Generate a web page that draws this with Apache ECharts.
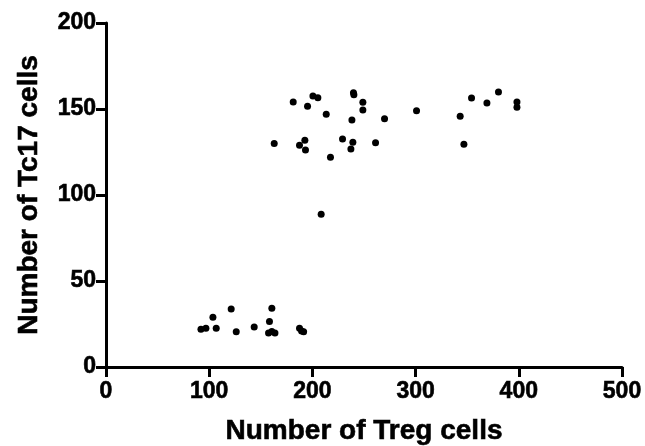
<!DOCTYPE html>
<html>
<head>
<meta charset="utf-8">
<script src="https://cdn.jsdelivr.net/npm/echarts@6/dist/echarts.min.js"></script>
<style>
  html, body { margin: 0; padding: 0; background: #fff; }
  #chart { width: 645px; height: 446px; }
</style>
</head>
<body>
<div id="chart"></div>
<script>
// Treg vs Tc17 counts
const tregCells = [
  92, 96.8, 103.6, 106.8, 121.3, 126.2, 143.6, 158.4, 160.7, 157.5, 160.7, 163.7,
  187.5, 189.5, 191.5,
  163, 181.4, 195.3, 200.5, 205.3, 213.4, 187.5, 192.7, 193.3, 217.5, 208.5,
  239.8, 240.2, 248.9, 248.9, 238.3, 269.9, 229.2, 239.2, 237.3, 261.2,
  300.9, 343.2, 354.2, 369.1, 380.3, 398.2, 398.2, 346.8
];
const tc17Cells = [
  21.9, 22.5, 28.9, 22.5, 33.7, 20.5, 23.2, 26.4, 34.1, 19.8, 20.6, 19.8,
  22.5, 21, 20.5,
  130, 154, 151.6, 157.5, 156.6, 146.9, 128.9, 131.8, 126.2, 122, 88.8,
  159.5, 158.3, 153.9, 149.4, 143.6, 144.4, 132.6, 130.6, 126.7, 130.4,
  149, 145.8, 156.4, 153.5, 159.9, 154.1, 151, 129.5
];
const xTicks = [0, 500, 100];
const yTicks = [0, 200, 50];

const points = tregCells.map((x, i) => [x, tc17Cells[i]]);

const chart = echarts.init(document.getElementById('chart'));

// GraphPad-ish heavy text
const boldText = {
  color: '#000',
  fontFamily: 'Liberation Sans, Arial',
  fontWeight: 'bold',
  textBorderColor: '#000',
  textBorderWidth: 0.6
};

const axisCommon = {
  type: 'value',
  splitLine: { show: false },
  axisLine: { show: true, onZero: false, lineStyle: { color: '#000', width: 3 } },
  axisTick: { show: true, length: 10, lineStyle: { color: '#000', width: 3 } },
  axisLabel: Object.assign({}, boldText, { fontSize: 23 }),
  nameLocation: 'middle',
  nameTextStyle: Object.assign({}, boldText, { fontSize: 28 })
};

chart.setOption({
  animation: false,
  grid: { left: 106, right: 23, top: 23, bottom: 79, containLabel: false, outerBoundsMode: 'none' },
  xAxis: Object.assign({}, axisCommon, {
    min: xTicks[0], max: xTicks[1], interval: xTicks[2],
    name: 'Number of Treg cells',
    nameGap: 50,
    axisLabel: Object.assign({}, axisCommon.axisLabel, { margin: 13 })
  }),
  yAxis: Object.assign({}, axisCommon, {
    min: yTicks[0], max: yTicks[1], interval: yTicks[2],
    name: 'Number of Tc17 cells',
    nameGap: 63,
    axisLabel: Object.assign({}, axisCommon.axisLabel, { margin: 10 })
  }),
  series: [{
    type: 'scatter',
    data: points,
    symbolSize: 7,
    itemStyle: { color: '#000', opacity: 1 }
  }]
});
</script>
</body>
</html>
